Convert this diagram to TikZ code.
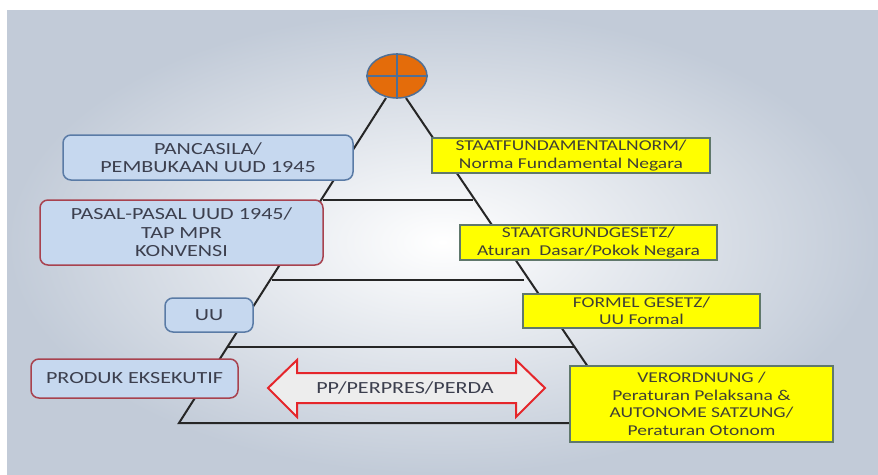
\documentclass[tikz,border=0pt]{standalone}
\usepackage{fontspec}
\setmainfont{Carlito}
\newfontfamily\lfont{Carlito}[FakeStretch=1.3]
\newfontfamily\yfont{Carlito}[FakeStretch=1.3]
\usetikzlibrary{shadings,shapes.geometric}
\definecolor{txt}{HTML}{3C3F4E}
\definecolor{ytxt}{HTML}{404035}
\definecolor{bfill}{HTML}{C6D8EF}
\definecolor{bblue}{HTML}{5A7BA6}
\definecolor{bred}{HTML}{A8424F}
\definecolor{yfill}{HTML}{FFFF00}
\definecolor{ydraw}{HTML}{60786C}
\definecolor{orng}{HTML}{E46C0A}
\definecolor{cblue}{HTML}{4F6F95}
\definecolor{edge}{HTML}{C2CBD8}
\definecolor{arrred}{HTML}{E5262B}
\tikzset{
  lbox/.style={draw=bblue, fill=bfill, rounded corners=8pt, line width=1.5pt, align=center,
    text=txt, font=\lfont\fontsize{17}{18.5}\selectfont, inner sep=0pt},
  rbox/.style={lbox, draw=bred},
  ybox/.style={draw=ydraw, fill=yfill, line width=1.5pt, align=center, text=ytxt,
    font=\yfont\fontsize{15}{17.5}\selectfont, inner sep=0pt},
  pyr/.style={line width=2pt, black!85}
}
\begin{document}
\begin{tikzpicture}[x=1pt,y=-1pt]
\useasboundingbox (0,0) rectangle (878,474);
\fill[white] (0,0) rectangle (878,474);
\shade[inner color=white, outer color=edge, shading=radial] (7,10) rectangle (878,474);
% pyramid
\coordinate (apexL) at (386,98);
\coordinate (apexR) at (406,98);
\coordinate (baseL) at (179,423);
\coordinate (baseR) at (626,423);
\coordinate (h1L) at (323,200); \coordinate (h1R) at (473,200);
\coordinate (h2L) at (272,280); \coordinate (h2R) at (524,280);
\coordinate (h3L) at (227,347); \coordinate (h3R) at (574,347);
\draw[pyr] (apexL) -- (baseL) -- (baseR) -- (apexR);
\draw[pyr] (h1L) -- (h1R);
\draw[pyr] (h2L) -- (h2R);
\draw[pyr] (h3L) -- (h3R);
% top circle
\node[ellipse, draw=cblue, fill=orng, line width=1.5pt, minimum width=60pt, minimum height=44pt, inner sep=0pt] (top) at (397,76) {};
\draw[cblue, line width=1.5pt] (top.north) -- (top.south) (top.west) -- (top.east);
% left boxes
\node[lbox, minimum width=290pt, minimum height=45pt] (pan) at (208,157.5) {PANCASILA/\\PEMBUKAAN UUD 1945};
\node[rbox, minimum width=283pt, minimum height=65pt] (pas) at (181.5,232.5) {PASAL-PASAL UUD 1945/\\TAP MPR\\KONVENSI};
\node[lbox, minimum width=88pt, minimum height=34pt] (uu) at (209,315) {UU};
\node[rbox, minimum width=207pt, minimum height=39pt] (prod) at (134.5,378.5) {PRODUK EKSEKUTIF};
% right boxes
\node[ybox, minimum width=278pt, minimum height=35pt] (sf) at (571,155.5) {STAATFUNDAMENTALNORM/\\Norma Fundamental Negara};
\node[ybox, minimum width=257pt, minimum height=35pt] (sg) at (588.5,242.5) {STAATGRUNDGESETZ/\\Aturan~ Dasar/Pokok Negara};
\node[ybox, minimum width=237pt, minimum height=34pt] (fg) at (641.5,311) {FORMEL GESETZ/\\UU Formal};
\node[ybox, minimum width=263pt, minimum height=76pt] (vo) at (701.5,404) {VERORDNUNG /\\Peraturan Pelaksana \&\\AUTONOME SATZUNG/\\Peraturan Otonom};
% double arrow
\draw[draw=arrred, fill=white!93!black, line width=2pt, line join=miter]
  (268,388) -- (297,360) -- (297,373) -- (516,373) -- (516,360) -- (545,388)
  -- (516,417) -- (516,403) -- (297,403) -- (297,417) -- cycle;
\node[text=txt, font=\lfont\fontsize{17}{18}\selectfont] (pp) at (405,388) {PP/PERPRES/PERDA};
\end{tikzpicture}
\end{document}
